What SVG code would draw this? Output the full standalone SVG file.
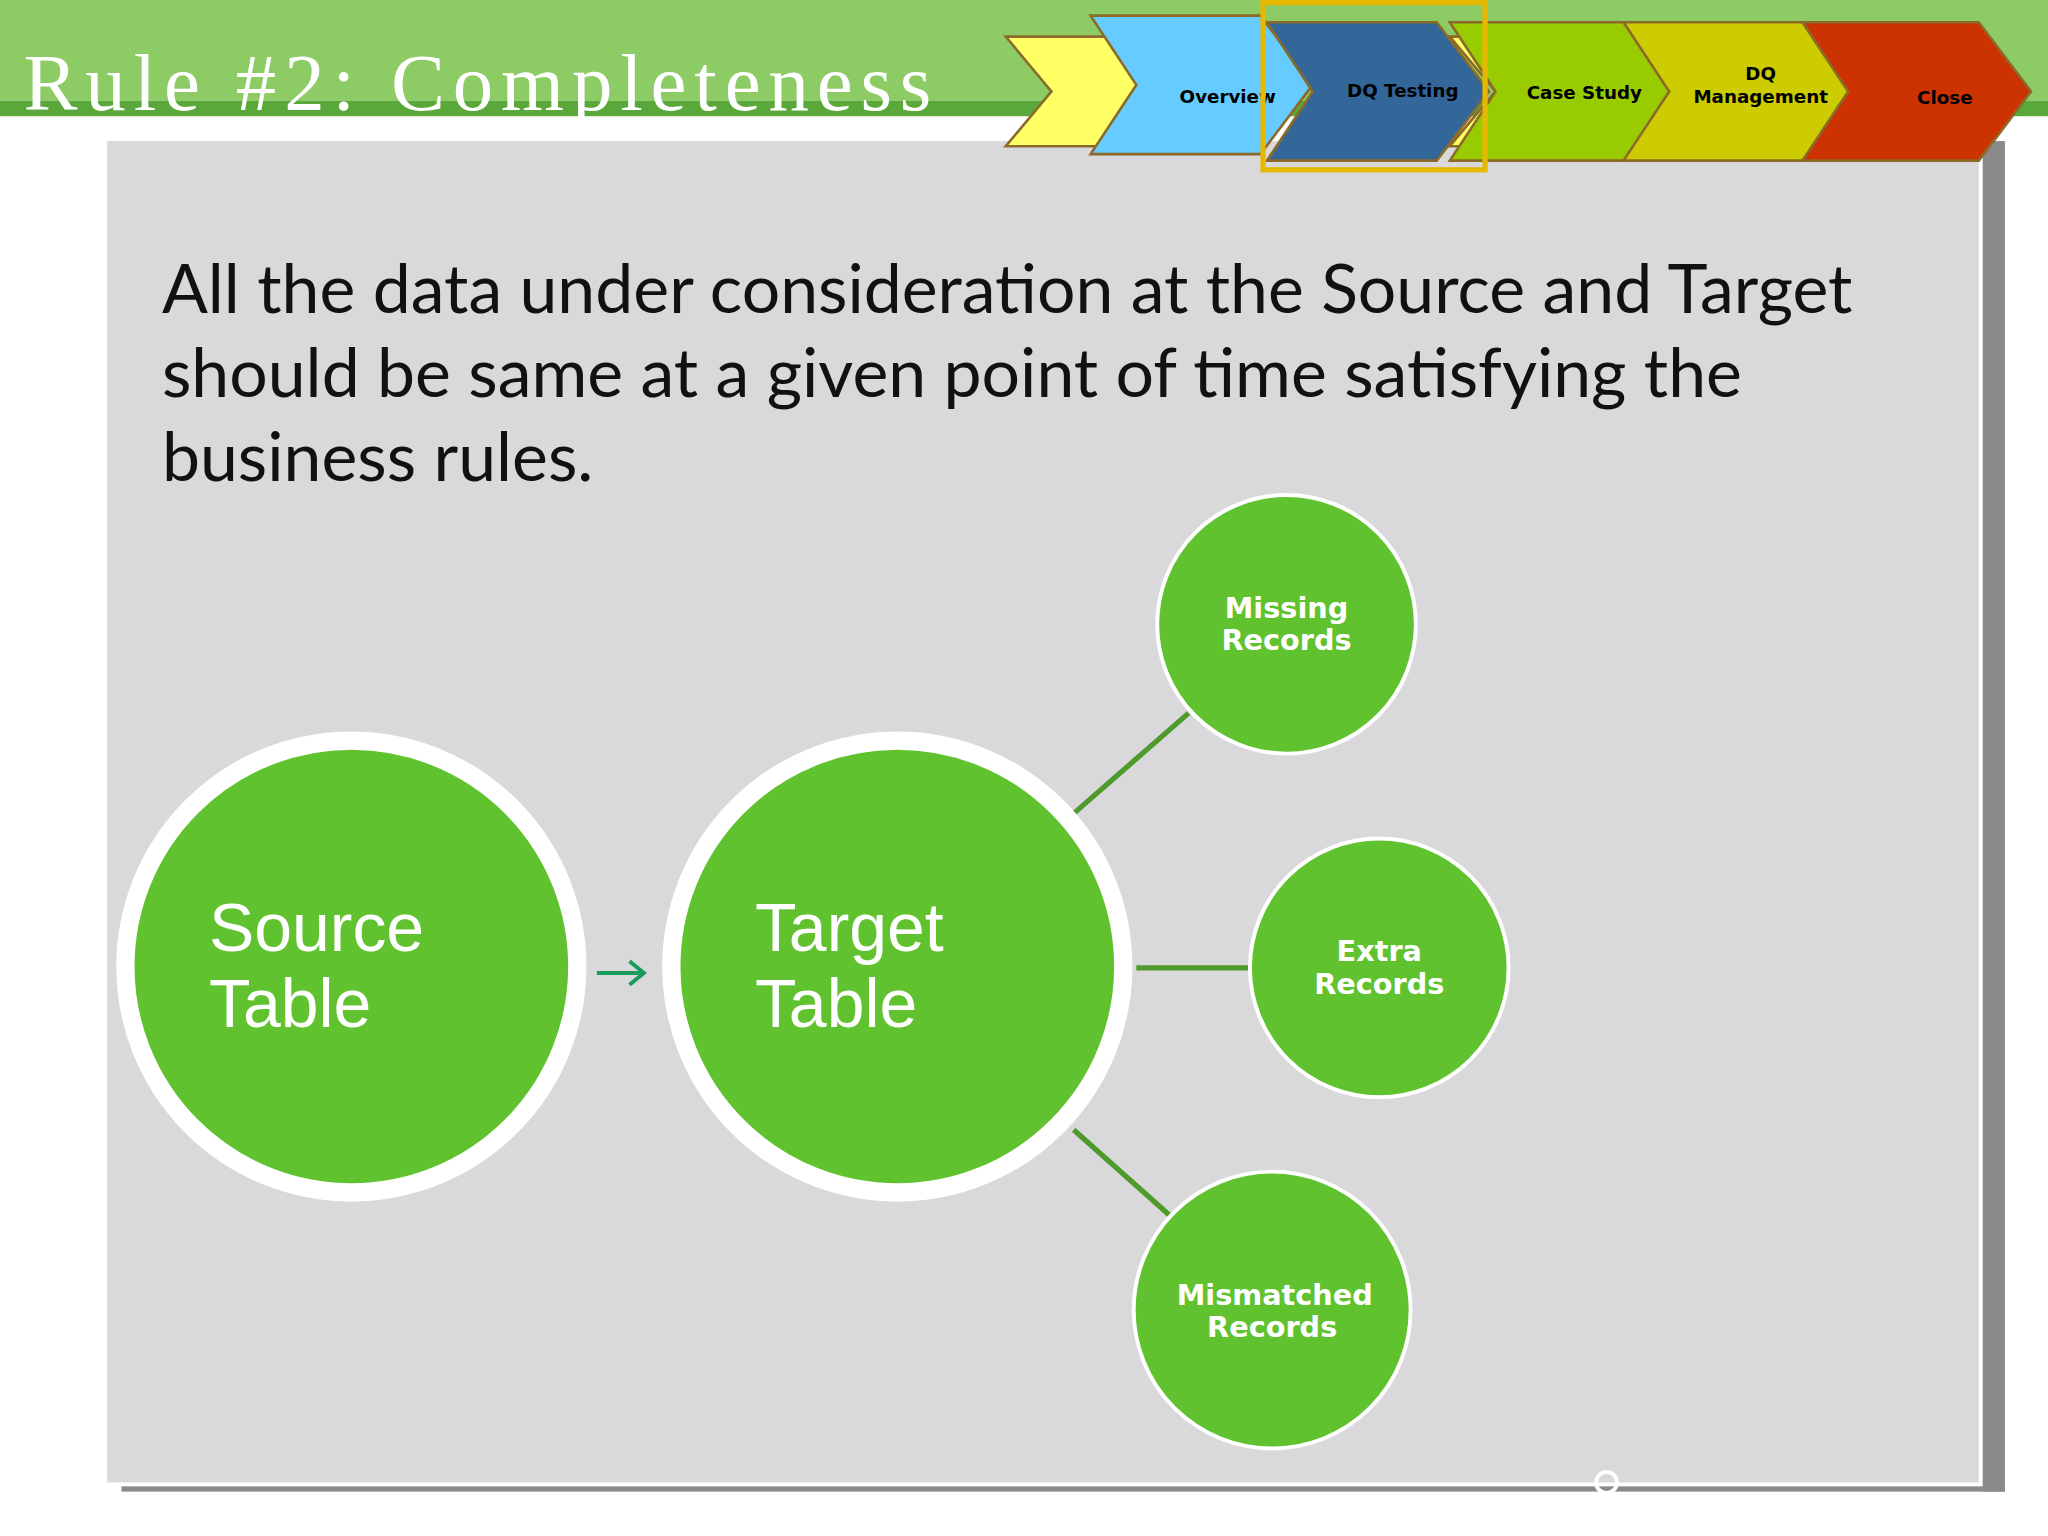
<svg xmlns="http://www.w3.org/2000/svg" width="2048" height="1536" viewBox="0 0 2048 1536">
<style>
.chev{stroke:#8B6A2A;stroke-width:2}
.ct{font-family:"DejaVu Sans",sans-serif;font-weight:bold;font-size:14px;fill:#000;text-anchor:middle}
.big{fill:#60C22F;stroke:#fff;stroke-width:14}
.sm{fill:#60C22F;stroke:#fff;stroke-width:3}
.bt{font-family:"Liberation Sans",Arial,sans-serif;font-size:52px;fill:#fff}
.st{font-family:"DejaVu Sans",sans-serif;font-weight:bold;font-size:22px;fill:#fff;text-anchor:middle}
.body{font-family:"Lato","Open Sans",sans-serif;font-size:52px;fill:#111}
</style>
<rect width="2048" height="1536" fill="#fff"/>
<g transform="scale(1.30612)">
<g id="header">
<rect x="0" y="0" width="1568" height="77" fill="#8DCB65"/>
<rect x="0" y="77" width="1568" height="12" fill="#5BA83A"/>
<text x="18" y="84" font-family="Liberation Serif,serif" font-size="62" fill="#fff" letter-spacing="6">Rule #2: Completeness</text>
</g>
<g id="panel">
<rect x="1518" y="108" width="17" height="1034" fill="#8a8a8a"/>
<rect x="93" y="1138" width="1442" height="4" fill="#8a8a8a"/>
<rect x="82" y="108" width="1433" height="1027" fill="#D9D8DA"/>
</g>
<g id="nav">
<polygon class="chev" fill="#FFFF66" points="770,28 880,28 915,70 880,112 770,112 805,70"/>
<polygon class="chev" fill="#FFFF66" points="1110,28 1230,28 1265,70 1230,112 1110,112 1145,70"/>
<polygon class="chev" fill="#FFFF66" points="1370,28 1400,28 1435,70 1400,112 1370,112 1405,70"/>
<polygon class="chev" fill="#66CCFF" points="835,12 965,12 1005,65 965,118 835,118 870,65"/>
<text class="ct" x="940" y="79">Overview</text>
<polygon class="chev" fill="#336699" points="970,17 1100,17 1140,70 1100,123 970,123 1005,70"/>
<text class="ct" x="1074" y="74">DQ Testing</text>
<polygon class="chev" fill="#99CC00" points="1110,17 1245,17 1285,70 1245,123 1110,123 1145,70"/>
<text class="ct" x="1213" y="76">Case Study</text>
<polygon class="chev" fill="#CCCC00" points="1243,17 1380,17 1420,70 1380,123 1243,123 1278,70"/>
<text class="ct" x="1348" y="61">DQ</text>
<text class="ct" x="1348" y="79">Management</text>
<polygon class="chev" fill="#CC3300" points="1380,17 1515,17 1555,70 1515,123 1380,123 1415,70"/>
<text class="ct" x="1489" y="80">Close</text>
<rect x="967" y="2" width="170" height="128" fill="none" stroke="#E6B800" stroke-width="4"/>
</g>
<g id="bodytext">
<text class="body" x="124" y="240">All the data under consideration at the Source and Target</text>
<text class="body" x="124" y="304">should be same at a given point of time satisfying the</text>
<text class="body" x="124" y="368">business rules.</text>
</g>
<g id="connectors" stroke="#4E9A2A" stroke-width="4">
<line x1="823" y1="622" x2="910" y2="546"/>
<line x1="870" y1="741" x2="957" y2="741"/>
<line x1="822" y1="865" x2="895" y2="930"/>
<path d="M457,745 H492 M482,736 L493,745 L482,754" fill="none" stroke="#1A9B5B" stroke-width="3"/>
</g>
<g id="source"><circle class="big" cx="269" cy="740" r="173"/>
<text class="bt" x="160" y="728">Source</text><text class="bt" x="160" y="786">Table</text></g>
<g id="target"><circle class="big" cx="687" cy="740" r="173"/>
<text class="bt" x="578" y="728">Target</text><text class="bt" x="578" y="786">Table</text></g>
<g id="missing"><circle class="sm" cx="985" cy="478" r="99"/>
<text class="st" x="985" y="473">Missing</text><text class="st" x="985" y="498">Records</text></g>
<g id="extra"><circle class="sm" cx="1056" cy="741" r="99"/>
<text class="st" x="1056" y="736">Extra</text><text class="st" x="1056" y="761">Records</text></g>
<g id="mismatched"><circle class="sm" cx="974" cy="1003" r="106"/>
<text class="st" x="976" y="999">Mismatched</text><text class="st" x="974" y="1024">Records</text></g>
<circle cx="1230" cy="1135" r="8" fill="none" stroke="#fff" stroke-width="3"/>
</g>
</svg>
